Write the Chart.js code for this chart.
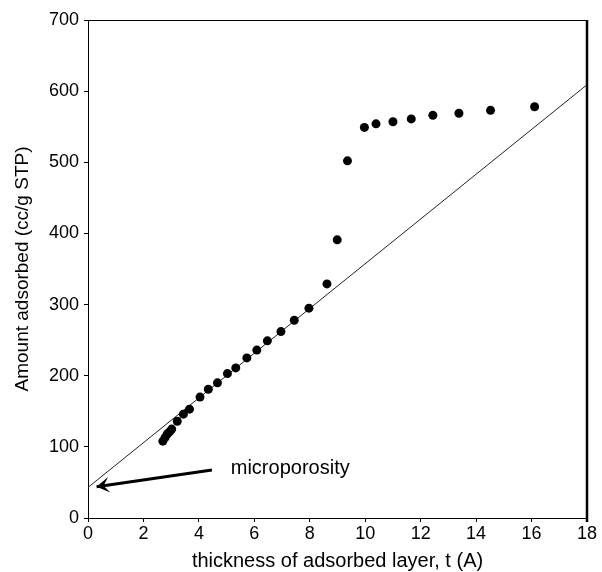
<!DOCTYPE html>
<html>
<head>
<meta charset="utf-8">
<script src="https://cdn.jsdelivr.net/npm/chart.js@4/dist/chart.umd.min.js"></script>
<style>
  html, body { margin: 0; padding: 0; background: #fff; }
  #wrap { width: 602px; height: 572px; }
</style>
</head>
<body>
<div id="wrap"><canvas id="tplot" width="602" height="572"></canvas></div>
<script>
  // t-plot: amount adsorbed vs thickness of adsorbed layer
  var tValues = [2.70, 2.78, 2.86, 2.94, 3.02, 3.22, 3.44, 3.66, 4.04, 4.34, 4.67, 5.03, 5.33, 5.73, 6.09,
                 6.47, 6.96, 7.44, 7.97, 8.62, 8.99, 9.36, 9.97, 10.39, 11.0, 11.66, 12.44, 13.38, 14.52, 16.11];
  var adsorbed = [108, 113, 118, 121, 125, 136, 146, 153, 170, 181, 190, 203, 211, 225, 236,
                  249, 262, 278, 295, 329, 391, 502, 549, 554, 557, 561, 566, 569, 573, 578];

  // straight-line fit through the low-t region
  var fitT = [0, 18];
  var fitV = [43, 609];

  // annotation arrow (tail -> head) and its label
  var arrowT = [4.47, 0.31];
  var arrowV = [67.5, 44];
  var noteText = "microporosity";
  var noteAt = { t: 5.15, v: 70 };

  var xTitle = "thickness of adsorbed layer, t (A)";
  var yTitle = "Amount adsorbed (cc/g STP)";

  var INK = "#000";
  var FONT = "'Liberation Sans', Arial, Helvetica, sans-serif";

  function pairs(xs, ys) {
    return xs.map(function (x, i) { return { x: x, y: ys[i] }; });
  }

  // frame (top + heavier right edge), arrowhead and annotation text
  var extras = {
    id: "extras",
    afterDatasetsDraw: function (chart) {
      var ctx = chart.ctx;
      var a = chart.chartArea;
      var xs = chart.scales.x, ys = chart.scales.y;
      ctx.save();
      ctx.strokeStyle = INK;
      ctx.lineWidth = 1;
      ctx.beginPath();
      ctx.moveTo(a.left, a.top + 0.5);
      ctx.lineTo(a.right, a.top + 0.5);
      ctx.stroke();
      ctx.lineWidth = 2.5;
      ctx.beginPath();
      ctx.moveTo(a.right, a.top);
      ctx.lineTo(a.right, a.bottom + 4);
      ctx.stroke();

      // arrowhead at the end of the arrow dataset
      var x0 = xs.getPixelForValue(arrowT[0]), y0 = ys.getPixelForValue(arrowV[0]);
      var x1 = xs.getPixelForValue(arrowT[1]), y1 = ys.getPixelForValue(arrowV[1]);
      var ang = Math.atan2(y1 - y0, x1 - x0);
      var len = 15, spread = 0.55;
      ctx.fillStyle = INK;
      ctx.beginPath();
      ctx.moveTo(x1, y1);
      ctx.lineTo(x1 - len * Math.cos(ang - spread), y1 - len * Math.sin(ang - spread));
      ctx.lineTo(x1 - 7 * Math.cos(ang), y1 - 7 * Math.sin(ang));
      ctx.lineTo(x1 - len * Math.cos(ang + spread), y1 - len * Math.sin(ang + spread));
      ctx.closePath();
      ctx.fill();

      ctx.font = "20px " + FONT;
      ctx.textAlign = "left";
      ctx.textBaseline = "middle";
      ctx.fillText(noteText, xs.getPixelForValue(noteAt.t), ys.getPixelForValue(noteAt.v));
      ctx.restore();
    }
  };

  new Chart(document.getElementById("tplot"), {
    type: "scatter",
    data: {
      datasets: [
        {
          label: "fit",
          data: pairs(fitT, fitV),
          showLine: true,
          borderColor: "#222",
          borderWidth: 1,
          pointRadius: 0,
          order: 3
        },
        {
          label: "arrow",
          data: pairs(arrowT, arrowV),
          showLine: true,
          borderColor: INK,
          borderWidth: 3,
          pointRadius: 0,
          order: 2
        },
        {
          label: "data",
          data: pairs(tValues, adsorbed),
          backgroundColor: INK,
          borderColor: INK,
          pointRadius: 4.5,
          borderWidth: 0,
          order: 1
        }
      ]
    },
    options: {
      responsive: false,
      animation: false,
      layout: { padding: { top: 20, right: 15, left: 0, bottom: 0 } },
      plugins: { legend: { display: false }, tooltip: { enabled: false } },
      scales: {
        x: {
          type: "linear",
          min: 0, max: 18,
          afterFit: function (s) { s.height = 54; },
          ticks: { stepSize: 2, color: INK, padding: 1, font: { family: FONT, size: 18 } },
          grid: { drawOnChartArea: false, drawTicks: true, tickLength: 4, color: INK },
          border: { color: INK, width: 1 },
          title: { display: true, text: xTitle, color: INK, padding: { top: 0, bottom: 1 },
                   font: { family: FONT, size: 20, lineHeight: 1 } }
        },
        y: {
          type: "linear",
          min: 0, max: 700,
          afterFit: function (s) { s.width = 88; },
          ticks: { stepSize: 100, color: INK, padding: 5, font: { family: FONT, size: 18 } },
          grid: { drawOnChartArea: false, drawTicks: true, tickLength: 4, color: INK },
          border: { color: INK, width: 1 },
          title: { display: true, text: yTitle, color: INK, padding: { top: 13, bottom: 0 },
                   font: { family: FONT, size: 19, lineHeight: 1 } }
        }
      }
    },
    plugins: [extras]
  });
</script>
</body>
</html>
